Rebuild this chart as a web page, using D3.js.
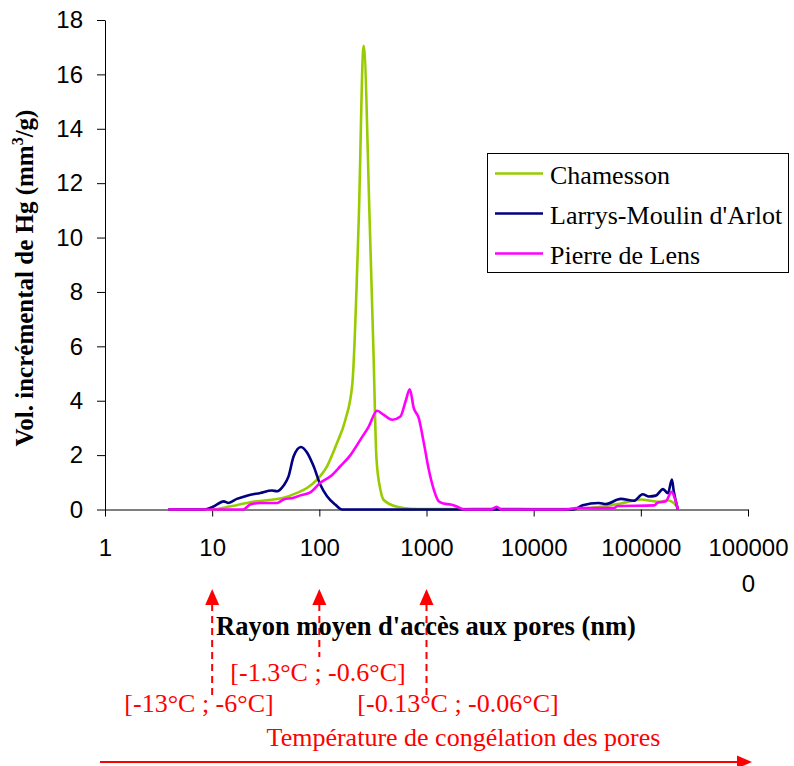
<!DOCTYPE html>
<html>
<head>
<meta charset="utf-8">
<script src="https://cdn.jsdelivr.net/npm/d3@7"></script>
<style>
  html, body { margin: 0; padding: 0; background: #fff; }
  svg { display: block; }
</style>
</head>
<body>
<svg id="chart" width="794" height="766"></svg>
<script>
// ---- data ----
const xTickValues = [1, 10, 100, 1000, 10000, 100000, 1000000];
const xTickLabels = ["1", "10", "100", "1000", "10000", "100000", "1000000"];
const yTickValues = [0, 2, 4, 6, 8, 10, 12, 14, 16, 18];

const seriesNames = ["Chamesson", "Larrys-Moulin d'Arlot", "Pierre de Lens"];
const seriesColors = ["#99CC00", "#000080", "#FF00FF"];

const chamessonR = [3.9, 10.3, 13.7, 17.0, 22.6, 32.5, 46.4, 61.9, 76.7, 95.2, 118, 146, 175, 203, 233, 259, 295, 320, 341, 372, 399, 532, 708, 1000, 2000, 5000, 10000, 20000, 25600, 42300, 60500, 75100, 100000, 124000, 154000, 178000, 194000, 212000, 222000];
const chamessonV = [0, 0, 0.09, 0.16, 0.27, 0.34, 0.43, 0.61, 0.79, 1.1, 1.59, 2.44, 3.3, 4.6, 10.6, 17.05, 10.6, 5.8, 1.9, 0.72, 0.35, 0.1, 0.03, 0.02, 0.02, 0.03, 0.02, 0.02, 0.03, 0.1, 0.2, 0.28, 0.37, 0.32, 0.28, 0.34, 0.29, 0.15, 0];

const larrysR = [3.9, 8.3, 10.3, 12.8, 14.2, 17.0, 21.1, 28.1, 36.1, 40.3, 46.4, 51.6, 57.5, 67.4, 76.7, 88.5, 102, 118, 141, 163, 1000, 10000, 23600, 28700, 40500, 47100, 65000, 86000, 104000, 119000, 138000, 161000, 179000, 195000, 203000, 222000];
const larrysV = [0, 0, 0.11, 0.3, 0.24, 0.39, 0.51, 0.61, 0.7, 0.67, 0.88, 1.22, 1.95, 2.30, 2.1, 1.59, 0.92, 0.49, 0.18, 0, 0, 0, 0, 0.16, 0.24, 0.2, 0.39, 0.32, 0.56, 0.48, 0.51, 0.75, 0.6, 1.1, 0.66, 0];

const lensR = [3.9, 19.5, 22.6, 28.1, 40.3, 46.4, 57.5, 66.4, 82.4, 102, 127, 157, 195, 242, 289, 346, 399, 478, 571, 637, 698, 761, 847, 944, 1050, 1170, 1300, 1450, 1680, 1940, 2230, 4000, 4510, 5000, 20000, 25000, 56300, 60500, 133000, 143000, 171000, 194000, 208000, 222000];
const lensV = [0, 0, 0.18, 0.24, 0.24, 0.37, 0.43, 0.52, 0.63, 0.98, 1.22, 1.59, 2.0, 2.57, 3.05, 3.63, 3.48, 3.3, 3.42, 3.97, 4.42, 3.73, 3.36, 2.45, 1.47, 0.73, 0.3, 0.22, 0.18, 0.1, 0, 0, 0.1, 0, 0, 0.05, 0.05, 0.13, 0.15, 0.25, 0.3, 0.65, 0.4, 0];

// annotation data
const arrowTargets = [10, 100, 1000];
const tempLabels = ["[-13°C ; -6°C]", "[-1.3°C ; -0.6°C]", "[-0.13°C ; -0.06°C]"];

// ---- drawing ----
const svg = d3.select("#chart");
const serif = "'Liberation Serif', 'Times New Roman', Times, serif";
const sans = "'Liberation Sans', Arial, Helvetica, sans-serif";

const x = d3.scaleLog().domain([1, 1000000]).range([105, 748]);
const y = d3.scaleLinear().domain([0, 18]).range([509.5, 20]);

// Y axis
const yAxis = svg.append("g")
  .attr("transform", "translate(105,0)")
  .call(d3.axisLeft(y).tickValues(yTickValues).tickSize(8).tickSizeOuter(0).tickPadding(14).tickFormat(d3.format("d")));
yAxis.select(".domain").attr("stroke", "#000");
yAxis.selectAll(".tick line").attr("stroke", "#000");
yAxis.selectAll(".tick text").attr("font-family", sans).attr("font-size", 24).attr("fill", "#000");

// X axis
const xAxis = svg.append("g")
  .attr("transform", "translate(0,509.5)")
  .call(d3.axisBottom(x).tickValues(xTickValues).tickSize(7).tickSizeOuter(0).tickPadding(10)
    .tickFormat((d, i) => xTickLabels[i]));
xAxis.select(".domain").attr("stroke", "#000");
xAxis.selectAll(".tick line").attr("stroke", "#000");
xAxis.selectAll(".tick text")
  .attr("font-family", sans).attr("font-size", 24).attr("fill", "#000")
  .attr("dy", null).attr("y", 46)
  .each(function(d, i) {
    const label = xTickLabels[i];
    if (label.length > 6) {
      const t = d3.select(this).text(null);
      t.append("tspan").attr("x", 0).attr("y", 46).text(label.slice(0, 6));
      t.append("tspan").attr("x", 0).attr("y", 82).text(label.slice(6));
    }
  });

// Lines
const line = d3.line()
  .x(d => x(d[0]))
  .y(d => y(d[1]))
  .curve(d3.curveMonotoneX);

const allSeries = [
  d3.zip(chamessonR, chamessonV),
  d3.zip(larrysR, larrysV),
  d3.zip(lensR, lensV)
];
allSeries.forEach((pts, i) => {
  svg.append("path")
    .datum(pts)
    .attr("d", line)
    .attr("fill", "none")
    .attr("stroke", seriesColors[i])
    .attr("stroke-width", 2.6)
    .attr("stroke-linejoin", "round");
});

// Legend
const lg = svg.append("g");
lg.append("rect").attr("x", 487.5).attr("y", 153.5).attr("width", 301).attr("height", 119)
  .attr("fill", "#fff").attr("stroke", "#000").attr("stroke-width", 1);
seriesNames.forEach((name, i) => {
  const ly = 173.5 + i * 40;
  lg.append("line").attr("x1", 495).attr("x2", 543).attr("y1", ly).attr("y2", ly)
    .attr("stroke", seriesColors[i]).attr("stroke-width", 2.6);
  lg.append("text").attr("x", 550).attr("y", ly + 10)
    .attr("font-family", serif).attr("font-size", 26).attr("fill", "#000").text(name);
});

// Y axis title
const yt = svg.append("text")
  .attr("transform", "translate(33,278) rotate(-90)")
  .attr("text-anchor", "middle")
  .attr("font-family", serif).attr("font-size", 25).attr("font-weight", "bold").attr("fill", "#000");
yt.append("tspan").text("Vol. incrémental de Hg (mm");
yt.append("tspan").attr("font-size", 16).attr("dy", -10).text("3");
yt.append("tspan").attr("dy", 10).text("/g)");

// Red annotations
const red = "#FF0000";
const ann = svg.append("g");
const lineEnds = [697, 657, 697];
arrowTargets.forEach((v, i) => {
  const ax = x(v);
  ann.append("line").attr("x1", ax).attr("x2", ax).attr("y1", 604).attr("y2", lineEnds[i])
    .attr("stroke", red).attr("stroke-width", 2).attr("stroke-dasharray", "7,5");
  ann.append("path")
    .attr("d", `M${ax},589 L${ax - 7},605 L${ax + 7},605 Z`)
    .attr("fill", red);
});

// X axis title (drawn over dashed lines)
svg.append("text")
  .attr("x", 426).attr("y", 635)
  .attr("text-anchor", "middle")
  .attr("font-family", serif).attr("font-size", 26.5).attr("font-weight", "bold").attr("fill", "#000")
  .text("Rayon moyen d'accès aux pores (nm)");

const labelPos = [[199, 712], [318, 681], [458, 712]];
tempLabels.forEach((t, i) => {
  ann.append("text").attr("x", labelPos[i][0]).attr("y", labelPos[i][1])
    .attr("text-anchor", "middle")
    .attr("font-family", serif).attr("font-size", 26).attr("fill", red).text(t);
});
ann.append("text").attr("x", 463.5).attr("y", 746)
  .attr("text-anchor", "middle")
  .attr("font-family", serif).attr("font-size", 26).attr("fill", red)
  .text("Température de congélation des pores");

ann.append("line").attr("x1", 100).attr("x2", 740).attr("y1", 762).attr("y2", 762)
  .attr("stroke", red).attr("stroke-width", 2);
ann.append("path").attr("d", "M752,762 L737,755.5 L737,768.5 Z").attr("fill", red);
</script>
</body>
</html>
